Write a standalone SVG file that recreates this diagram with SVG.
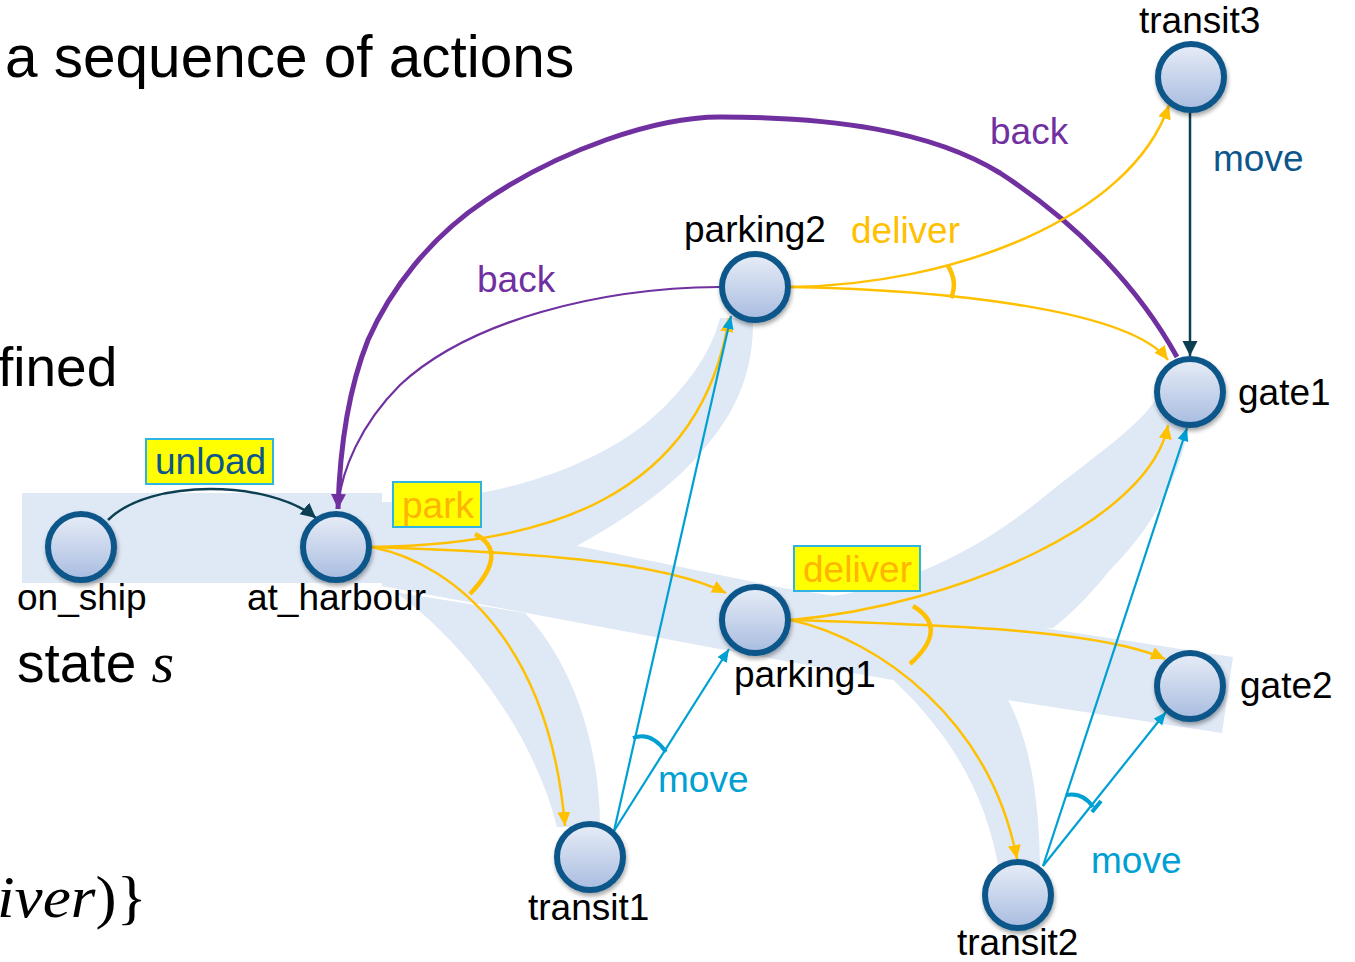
<svg xmlns="http://www.w3.org/2000/svg" width="1355" height="962" viewBox="0 0 1355 962">
  <defs>
    <linearGradient id="nodeFill" x1="0" y1="0" x2="0" y2="1">
      <stop offset="0" stop-color="#e8edf7"/>
      <stop offset="1" stop-color="#a8bce0"/>
    </linearGradient>
    <filter id="shadow" x="-40%" y="-40%" width="180%" height="190%">
      <feDropShadow dx="1" dy="3" stdDeviation="2" flood-color="#000" flood-opacity="0.35"/>
    </filter>
    <marker id="ahY" markerUnits="userSpaceOnUse" markerWidth="16" markerHeight="14" refX="14" refY="6.5" orient="auto">
      <path d="M0,0 L14,6.5 L0,13 z" fill="#ffc000"/>
    </marker>
    <marker id="ahB" markerUnits="userSpaceOnUse" markerWidth="15" markerHeight="12" refX="13" refY="5.5" orient="auto">
      <path d="M0,0 L13,5.5 L0,11 z" fill="#00a0d2"/>
    </marker>
    <marker id="ahT" markerUnits="userSpaceOnUse" markerWidth="17" markerHeight="16" refX="15" refY="7.5" orient="auto">
      <path d="M0,0 L15,7.5 L0,15 z" fill="#0d3f52"/>
    </marker>
    <marker id="ahP" markerUnits="userSpaceOnUse" markerWidth="17" markerHeight="16" refX="15" refY="7.5" orient="auto">
      <path d="M0,0 L15,7.5 L0,15 z" fill="#7030a0"/>
    </marker>
  </defs>
  <style>
    text { font-family: "Liberation Sans", Arial, sans-serif; }
    .lbl { font-size: 37px; fill: #000; }
    .big { font-size: 58.5px; fill: #000; }
    .body { font-size: 55px; fill: #000; }
    .math { font-family: "Liberation Serif", "Times New Roman", serif; font-style: italic; font-size: 60px; fill: #000; }
    .band { fill: #dfe8f5; }
    .node circle { fill: url(#nodeFill); stroke: #0b568a; stroke-width: 6; filter: url(#shadow); }
    .y { fill: none; stroke: #ffc000; stroke-width: 2.5; }
    .b { fill: none; stroke: #00a0d2; stroke-width: 2.2; }
    .tl { fill: none; stroke: #0d3f52; stroke-width: 2.5; }
    .pk { fill: none; stroke: #7030a0; }
    .arcY { fill: none; stroke: #ffc000; stroke-width: 4.5; }
    .arcB { fill: none; stroke: #00a0d2; stroke-width: 4; }
    .box { fill: #ffff00; stroke: #2eb4e0; stroke-width: 2; }
    .cY { fill: #ffc000; }
    .cYbox { fill: #ffb400; }
    .cB { fill: #00a0d2; }
    .cD { fill: #0b568a; }
    .cP { fill: #7030a0; }
  </style>

  <rect width="1355" height="962" fill="#ffffff"/>

  <!-- slide text -->
  <text class="big" x="5" y="77">a sequence of actions</text>
  <text class="body" x="-2" y="386">fined</text>
  <text class="body" x="17" y="682">state <tspan class="math" style="font-size:58px">s</tspan></text>
  <text x="-3" y="917" textLength="150" lengthAdjust="spacingAndGlyphs"><tspan class="math">iver</tspan><tspan font-family="Liberation Serif, serif" font-size="60">)}</tspan></text>

  <!-- highlighted plan bands -->
  <g id="bands">
    <rect class="band" x="22" y="493" width="360" height="90"/>
    <path class="band" d="M382,506 L783,588 L1233,657 L1222,733 L1007,700 L790,662 L382,586 Z"/>
    <path class="band" d="M382,502 C470,503 580,478 650,420 C690,385 712,350 720,318 L753,318 C754,370 737,410 707,445 C672,490 615,525 575,547 L382,560 Z"/>
    <path class="band" d="M790,600 C870,598 960,565 1040,500 C1100,452 1140,425 1155,400 L1190,420 C1180,480 1150,530 1110,570 C1090,595 1070,615 1053,628 L790,640 Z"/>
    <path class="band" d="M885,672 C937,720 985,780 1000,875 L1040,875 C1040,800 1030,740 1007,698 Z"/>
    <path class="band" d="M395,592 C450,630 530,720 557,827 L600,827 C600,740 570,660 525,613 Z"/>
  </g>

  <!-- transitions -->
  <g id="connectors">
    <path class="tl" d="M108,520 C150,478 270,480 316,518" marker-end="url(#ahT)"/>
    <path class="tl" d="M1190,113 L1190,356" marker-end="url(#ahT)"/>

    <path class="pk" stroke-width="5" d="M1177,357 C1140,290 1080,225 1000,173 C930,130 830,117 720,117 C655,117 560,150 486,200 C430,237 390,290 368,340 C350,385 340,440 338,509" marker-end="url(#ahP)"/>
    <path class="pk" stroke-width="2.2" d="M719,287 C600,288 470,320 400,385 C360,425 342,470 338,505"/>

    <path class="y" d="M372,547 C540,545 700,500 729,318" marker-end="url(#ahY)"/>
    <path class="y" d="M372,547 C520,552 660,560 726,593" marker-end="url(#ahY)"/>
    <path class="y" d="M372,547 C460,565 550,650 565,826" marker-end="url(#ahY)"/>
    <path class="y" d="M791,620 C960,605 1150,520 1168,425" marker-end="url(#ahY)"/>
    <path class="y" d="M791,620 C950,625 1100,630 1165,659" marker-end="url(#ahY)"/>
    <path class="y" d="M791,620 C880,640 990,720 1017,859" marker-end="url(#ahY)"/>
    <path class="y" d="M791,287 C950,285 1130,220 1169,105" marker-end="url(#ahY)"/>
    <path class="y" d="M791,287 C950,290 1130,310 1168,360" marker-end="url(#ahY)"/>

    <path class="b" d="M614,831 L731,316" marker-end="url(#ahB)"/>
    <path class="b" d="M614,831 L729,649" marker-end="url(#ahB)"/>
    <path class="b" d="M1043,866 L1187,428" marker-end="url(#ahB)"/>
    <path class="b" d="M1043,866 L1166,712" marker-end="url(#ahB)"/>

    <!-- grouping arcs over the alternatives of one action -->
    <path class="arcY" d="M475,534 Q510,552 470,594"/>
    <path class="arcY" d="M913,606 Q950,628 910,664"/>
    <path class="arcY" d="M948,266 Q958,282 951,298"/>
    <path class="arcB" d="M633,738 Q651,731 666,752"/>
    <path class="arcB" d="M1066,795 Q1083,792 1093,807"/>
    <path class="arcB" stroke-width="3" d="M1092,812 L1101,801"/>
  </g>

  <!-- action labels -->
  <g id="labels">
    <rect class="box" x="146" y="439" width="127" height="45"/>
    <text class="lbl cD" x="155" y="474">unload</text>
    <rect class="box" x="393" y="482" width="88" height="45"/>
    <text class="lbl cYbox" x="402" y="518">park</text>
    <rect class="box" x="794" y="546" width="126" height="45"/>
    <text class="lbl cYbox" x="803" y="582">deliver</text>
    <text class="lbl cP" x="990" y="144">back</text>
    <text class="lbl cP" x="477" y="292">back</text>
    <text class="lbl cY" x="851" y="243">deliver</text>
    <text class="lbl cD" x="1213" y="171">move</text>
    <text class="lbl cB" x="658" y="792">move</text>
    <text class="lbl cB" x="1091" y="873">move</text>
  </g>

  <!-- states -->
  <g id="node-on_ship" class="node">
    <circle cx="81" cy="547" r="33"/>
    <text class="lbl" x="17" y="610">on_ship</text>
  </g>
  <g id="node-at_harbour" class="node">
    <circle cx="336" cy="547" r="33"/>
    <text class="lbl" x="247" y="610">at_harbour</text>
  </g>
  <g id="node-parking2" class="node">
    <circle cx="755" cy="287" r="33"/>
    <text class="lbl" x="684" y="242">parking2</text>
  </g>
  <g id="node-parking1" class="node">
    <circle cx="755" cy="620" r="33"/>
    <text class="lbl" x="734" y="687">parking1</text>
  </g>
  <g id="node-transit1" class="node">
    <circle cx="590" cy="857" r="33"/>
    <text class="lbl" x="528" y="920">transit1</text>
  </g>
  <g id="node-transit2" class="node">
    <circle cx="1018" cy="895" r="33"/>
    <text class="lbl" x="957" y="955">transit2</text>
  </g>
  <g id="node-transit3" class="node">
    <circle cx="1191" cy="77" r="33"/>
    <text class="lbl" x="1139" y="33">transit3</text>
  </g>
  <g id="node-gate1" class="node">
    <circle cx="1190" cy="392" r="33"/>
    <text class="lbl" x="1238" y="405">gate1</text>
  </g>
  <g id="node-gate2" class="node">
    <circle cx="1190" cy="686" r="33"/>
    <text class="lbl" x="1240" y="698">gate2</text>
  </g>
</svg>
